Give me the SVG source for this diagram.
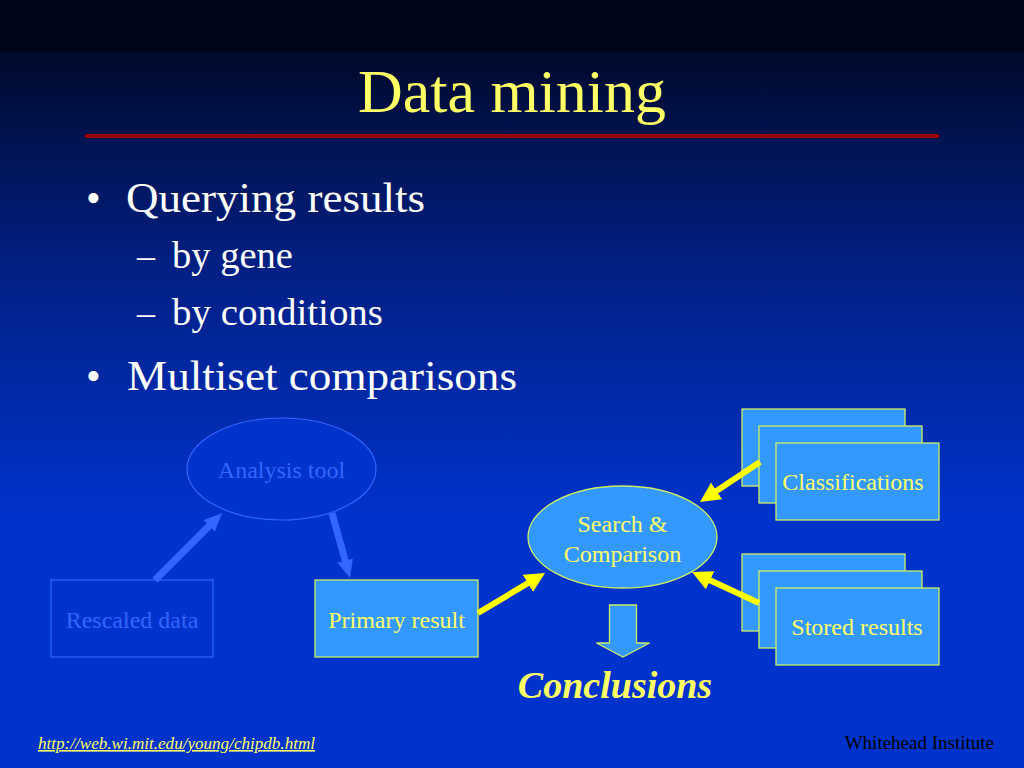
<svg xmlns="http://www.w3.org/2000/svg" width="1024" height="768" viewBox="0 0 1024 768">
<defs>
<linearGradient id="bg" x1="0" y1="52" x2="0" y2="520" gradientUnits="userSpaceOnUse">
<stop offset="0" stop-color="#000a2c"/>
<stop offset="0.45" stop-color="#021f82"/>
<stop offset="1" stop-color="#0033cc"/>
</linearGradient>
<marker id="hb" markerUnits="userSpaceOnUse" markerWidth="20" markerHeight="18" refX="6" refY="8" orient="auto" viewBox="0 0 20 18">
<path d="M0,0 L18,8 L0,16 z" fill="#3366ff"/>
</marker>
<marker id="hy" markerUnits="userSpaceOnUse" markerWidth="22" markerHeight="22" refX="8" refY="10" orient="auto" viewBox="0 0 22 22">
<path d="M0,0 L20,10 L0,20 z" fill="#ffff00"/>
</marker>
<style>
.serif{font-family:"Liberation Serif","Times New Roman",serif;}
.lb{fill:#3399ff;stroke:#ccee66;stroke-width:1.3;}
.db{fill:#0033cc;stroke:#3366ff;stroke-width:1.2;}
.yt{fill:#ffff66;font-size:24px;text-anchor:middle;}
.bt{fill:#3366ff;font-size:24px;text-anchor:middle;}
.cb{fill:none;stroke:#3366ff;stroke-width:7;}
.cy{fill:none;stroke:#ffff00;stroke-width:6;}
</style>
</defs>
<rect x="0" y="0" width="1024" height="768" fill="url(#bg)"/>
<rect x="0" y="0" width="1024" height="52" fill="#00051a"/>

<g id="title">
<text class="serif" x="512" y="112" fill="#ffff66" font-size="62" text-anchor="middle" textLength="308" lengthAdjust="spacingAndGlyphs">Data mining</text>
<rect x="85" y="134" width="854" height="4" fill="#990000"/>
</g>

<g id="bullets" class="serif">
<text x="86" y="212" font-size="42" fill="#fff">•</text>
<text x="126" y="212" font-size="43" fill="#fff" textLength="299" lengthAdjust="spacingAndGlyphs">Querying results</text>
<text x="137" y="268" font-size="36" fill="#fff">–</text>
<text x="172" y="268" font-size="37" fill="#fff" textLength="121" lengthAdjust="spacingAndGlyphs">by gene</text>
<text x="137" y="325" font-size="36" fill="#fff">–</text>
<text x="172" y="325" font-size="37" fill="#fff" textLength="211" lengthAdjust="spacingAndGlyphs">by conditions</text>
<text x="86" y="390" font-size="42" fill="#fff">•</text>
<text x="127" y="390" font-size="43" fill="#fff" textLength="390" lengthAdjust="spacingAndGlyphs">Multiset comparisons</text>
</g>

<g id="analysis-tool">
<ellipse class="db" cx="281.5" cy="469" rx="94.5" ry="51"/>
<text class="serif bt" x="281.5" y="478">Analysis tool</text>
</g>
<g id="rescaled-data">
<rect class="db" x="51" y="580" width="162" height="77"/>
<text class="serif bt" x="132" y="628">Rescaled data</text>
</g>
<g id="primary-result">
<rect class="lb" x="315" y="580" width="163" height="77"/>
<text class="serif yt" x="396.5" y="628">Primary result</text>
</g>
<g id="search-comparison">
<ellipse class="lb" cx="622.5" cy="537" rx="94.5" ry="51"/>
<text class="serif yt" x="622.5" y="532">Search &amp;</text>
<text class="serif yt" x="622.5" y="562">Comparison</text>
</g>
<g id="classifications">
<rect class="lb" x="742" y="409" width="163" height="77"/>
<rect class="lb" x="759" y="426" width="163" height="77"/>
<rect class="lb" x="776" y="443" width="163" height="77"/>
<text class="serif yt" x="853" y="490">Classifications</text>
</g>
<g id="stored-results">
<rect class="lb" x="742" y="554" width="163" height="77"/>
<rect class="lb" x="759" y="571" width="163" height="77"/>
<rect class="lb" x="776" y="588" width="163" height="77"/>
<text class="serif yt" x="857" y="635">Stored results</text>
</g>
<g id="conclusions">
<path class="lb" d="M609.5,605 L636.5,605 L636.5,643 L649.5,643 L623,657 L596.5,643 L609.5,643 z"/>
<text class="serif" x="615" y="698" fill="#ffff66" font-size="38" font-weight="bold" font-style="italic" text-anchor="middle">Conclusions</text>
</g>

<g id="connectors">
<line class="cb" x1="155" y1="580" x2="213.5" y2="521.5" marker-end="url(#hb)"/>
<line class="cb" x1="332" y1="513" x2="346.8" y2="566.4" marker-end="url(#hb)"/>
<line class="cy" x1="478" y1="613" x2="534.7" y2="579.2" marker-end="url(#hy)"/>
<line class="cy" x1="760" y1="462" x2="710" y2="495.3" marker-end="url(#hy)"/>
<line class="cy" x1="759" y1="603" x2="702.9" y2="577" marker-end="url(#hy)"/>
</g>

<g id="footer" class="serif">
<text x="38" y="749" fill="#ffff66" font-size="16" font-style="italic" text-decoration="underline" textLength="277" lengthAdjust="spacingAndGlyphs">http://web.wi.mit.edu/young/chipdb.html</text>
<text x="994" y="749" fill="#000" font-size="19" text-anchor="end">Whitehead Institute</text>
</g>
</svg>
